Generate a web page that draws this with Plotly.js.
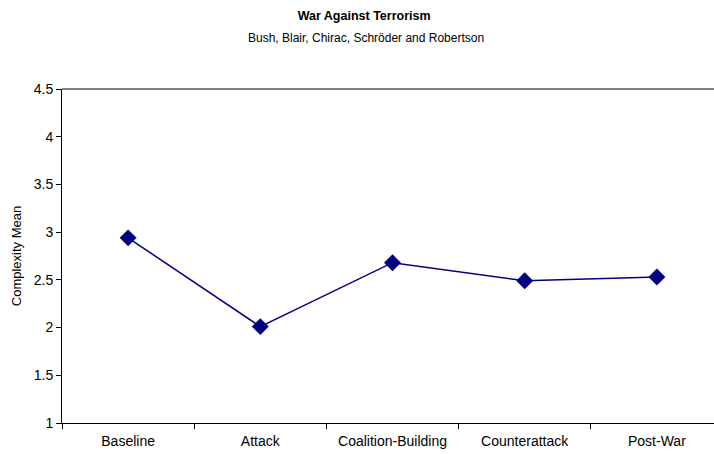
<!DOCTYPE html>
<html>
<head>
<meta charset="utf-8">
<script src="https://cdn.plot.ly/plotly-3.0.1.min.js"></script>
<style>html,body{margin:0;padding:0;background:#fff;}#chart{width:714px;height:454px;}</style>
</head>
<body>
<div id="chart"></div>
<script>
var categories = ["Baseline", "Attack", "Coalition-Building", "Counterattack", "Post-War"];
var complexityMean = [2.94, 2.01, 2.68, 2.49, 2.53];
var titleText = "War Against Terrorism";
var subtitleText = "Bush, Blair, Chirac, Schröder and Robertson";
var yTitle = "Complexity Mean";

var fontFam = "Liberation Sans, Arial, sans-serif";
var trace = {
  x: categories,
  y: complexityMean,
  type: "scatter",
  mode: "lines+markers",
  line: {color: "#000080", width: 1.5},
  marker: {symbol: "diamond", size: 13, color: "#000080"},
  hoverinfo: "x+y"
};
var layout = {
  width: 714, height: 454,
  margin: {l: 62, r: 0, t: 89, b: 31, pad: 0},
  paper_bgcolor: "#fff", plot_bgcolor: "#fff",
  showlegend: false,
  font: {family: fontFam, color: "#000", size: 12},
  title: {
    text: "<b>" + titleText + "</b>",
    font: {family: fontFam, size: 12.5, color: "#000"},
    xref: "container", x: 0.51, xanchor: "center",
    yref: "container", y: 1 - 16/454, yanchor: "middle"
  },
  annotations: [{
    text: subtitleText, showarrow: false,
    xref: "paper", x: (366 - 62)/652, xanchor: "center",
    yref: "paper", y: 1 + (89 - 38)/334, yanchor: "middle",
    font: {family: fontFam, size: 12, color: "#000"}
  }],
  xaxis: {
    type: "category",
    range: [-0.5, 4.432],
    tickson: "boundaries",
    ticks: "outside", ticklen: 5, tickcolor: "#000", tickwidth: 1,
    showline: true, linecolor: "#000", linewidth: 1,
    showgrid: false, zeroline: false,
    ticklabelstandoff: 5,
    tickfont: {family: fontFam, size: 14, color: "#000"},
    fixedrange: true
  },
  yaxis: {
    range: [1, 4.5], dtick: 0.5, tick0: 1,
    ticks: "outside", ticklen: 5, tickcolor: "#000", tickwidth: 1,
    showline: true, linecolor: "#000", linewidth: 1,
    showgrid: false, zeroline: false,
    tickfont: {family: fontFam, size: 14, color: "#000"},
    title: {text: yTitle, font: {family: fontFam, size: 13, color: "#000"}, standoff: 9},
    fixedrange: true
  },
  shapes: [{
    type: "line", xref: "paper", yref: "paper",
    x0: 0, x1: 1, y0: 1, y1: 1,
    line: {color: "#555", width: 1.5}
  }]
};
Plotly.newPlot("chart", [trace], layout, {displayModeBar: false, staticPlot: true});
</script>
</body>
</html>
